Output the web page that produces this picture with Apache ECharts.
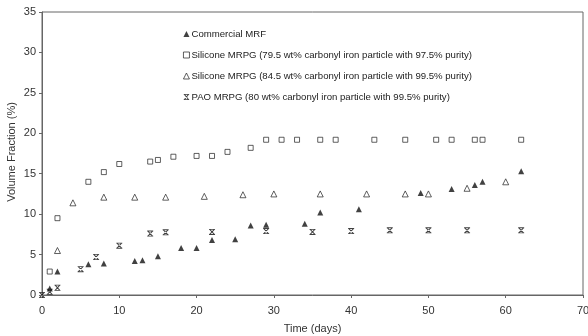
<!DOCTYPE html>
<html><head><meta charset="utf-8">
<script src="https://cdn.jsdelivr.net/npm/echarts@6/dist/echarts.min.js"></script>
<style>html,body{margin:0;padding:0;background:#fff}#c{width:588px;height:336px}</style>
</head><body><div id="c"></div>
<script>
const seriesNames = [
  'Commercial MRF',
  'Silicone MRPG (79.5 wt% carbonyl iron particle with 97.5% purity)',
  'Silicone MRPG (84.5 wt% carbonyl iron particle with 99.5% purity)',
  'PAO MRPG (80 wt% carbonyl iron particle with 99.5% purity)'
];
const yTitle = 'Volume Fraction (%)';
const xTitle = 'Time (days)';
const commercialDays = [1, 2, 6, 8, 12, 13, 15, 18, 20, 22, 25, 27, 29, 34, 36, 41, 49, 53, 56, 57, 62];
const commercialVals = [0.8, 2.9, 3.8, 3.9, 4.2, 4.3, 4.8, 5.8, 5.8, 6.8, 6.9, 8.6, 8.7, 8.8, 10.2, 10.6, 12.6, 13.1, 13.6, 14.0, 15.3];
const sil795Days = [1, 2, 6, 8, 10, 14, 15, 17, 20, 22, 24, 27, 29, 31, 33, 36, 38, 43, 47, 51, 53, 56, 57, 62];
const sil795Vals = [2.9, 9.5, 14.0, 15.2, 16.2, 16.5, 16.7, 17.1, 17.2, 17.2, 17.7, 18.2, 19.2, 19.2, 19.2, 19.2, 19.2, 19.2, 19.2, 19.2, 19.2, 19.2, 19.2, 19.2];
const sil845Days = [2, 4, 8, 12, 16, 21, 26, 30, 36, 42, 47, 50, 55, 60];
const sil845Vals = [5.5, 11.4, 12.1, 12.1, 12.1, 12.2, 12.4, 12.5, 12.5, 12.5, 12.5, 12.5, 13.2, 14.0];
const paoDays = [0, 1, 2, 5, 7, 10, 14, 16, 22, 29, 35, 40, 45, 50, 55, 62];
const paoVals = [0, 0.4, 0.9, 3.2, 4.7, 6.1, 7.6, 7.75, 7.8, 7.9, 7.8, 7.9, 8.0, 8.0, 8.0, 8.0];
const xTicks = [0, 10, 20, 30, 40, 50, 60, 70];
const yTicks = [0, 5, 10, 15, 20, 25, 30, 35];

const pairs = (xs, ys) => xs.map((x, i) => [x, ys[i]]);
const starPath = 'path://M0.5,0L9.5,0L9.5,1.4L0.5,1.4Z M0.5,8.6L9.5,8.6L9.5,10L0.5,10Z M1,1.4L3,1.4L9,8.6L7,8.6Z M9,1.4L7,1.4L1,8.6L3,8.6Z';
const font = 'Liberation Sans, Arial, sans-serif';
const chart = echarts.init(document.getElementById('c'), null, {renderer: 'canvas'});
chart.setOption({
  animation: false,
  backgroundColor: '#fff',
  grid: {left: 42, right: 5, top: 12, bottom: 41, containLabel: false, outerBoundsMode: 'none',
    show: true, borderColor: '#666', borderWidth: 1},
  graphic: [{
    type: 'text', x: 12, y: 152, rotation: Math.PI / 2,
    style: {text: yTitle, fontFamily: font, fontSize: 11, fill: '#333', align: 'center', verticalAlign: 'middle'}
  }],
  legend: {
    orient: 'vertical', left: 178, top: 24, itemGap: 11, itemWidth: 6, itemHeight: 6,
    itemStyle: {borderWidth: 0.9},
    textStyle: {fontFamily: font, fontSize: 9.6, color: '#222', padding: [0, 0, 0, -3]},
    data: seriesNames
  },
  xAxis: {
    type: 'value', min: 0, max: 70, interval: 10,
    name: xTitle, nameLocation: 'middle', nameGap: 28,
    nameTextStyle: {fontFamily: font, fontSize: 11, color: '#333'},
    axisLine: {show: true, lineStyle: {color: '#666', width: 1}},
    axisTick: {show: true, length: 3, lineStyle: {color: '#666'}},
    axisLabel: {fontFamily: font, fontSize: 11, color: '#333', margin: 10,
      formatter: v => xTicks.includes(v) ? String(v) : ''},
    splitLine: {show: false}
  },
  yAxis: {
    type: 'value', min: 0, max: 35, interval: 5,
    axisLine: {show: true, lineStyle: {color: '#666', width: 1}},
    axisTick: {show: true, length: 3, lineStyle: {color: '#666'}},
    axisLabel: {fontFamily: font, fontSize: 11, color: '#333', margin: 6,
      formatter: v => yTicks.includes(v) ? String(v) : ''},
    splitLine: {show: false}
  },
  series: [
    {name: seriesNames[0], type: 'scatter', data: pairs(commercialDays, commercialVals),
     symbol: 'triangle', symbolSize: 6, itemStyle: {color: '#111'}},
    {name: seriesNames[1], type: 'scatter', data: pairs(sil795Days, sil795Vals),
     symbol: 'rect', symbolSize: 5, itemStyle: {color: '#fff', borderColor: '#222', borderWidth: 0.9}},
    {name: seriesNames[2], type: 'scatter', data: pairs(sil845Days, sil845Vals),
     symbol: 'triangle', symbolSize: 6, itemStyle: {color: '#fff', borderColor: '#222', borderWidth: 0.9}},
    {name: seriesNames[3], type: 'scatter', data: pairs(paoDays, paoVals),
     symbol: starPath, symbolSize: 6, itemStyle: {color: '#111'}}
  ]
});
</script></body></html>
